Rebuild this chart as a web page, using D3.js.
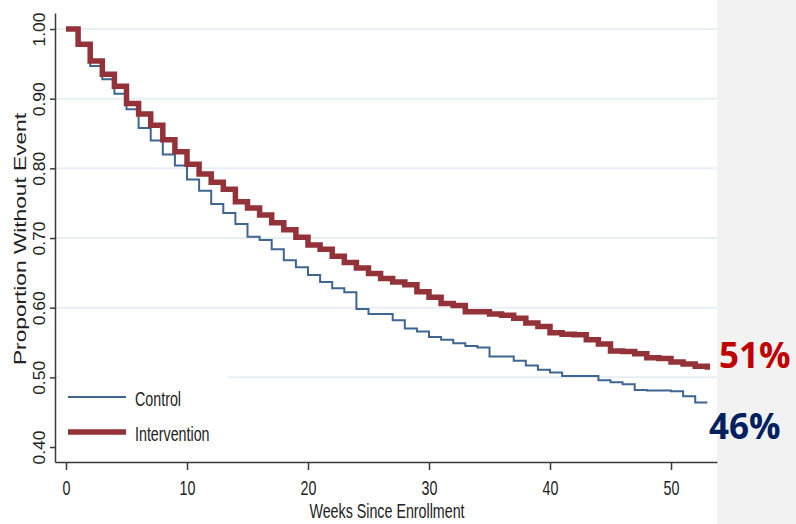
<!DOCTYPE html>
<html>
<head>
<meta charset="utf-8">
<script src="https://cdn.jsdelivr.net/npm/d3@7"></script>
<style>
  body { margin: 0; background: #fff; }
  svg { display: block; }
</style>
</head>
<body>
<div id="chart"></div>
<script>
// weekly Kaplan-Meier estimates
var weeks = [0,1,2,3,4,5,6,7,8,9,10,11,12,13,14,15,16,17,18,19,20,21,22,23,24,25,26,
    27,28,29,30,31,32,33,34,35,36,37,38,39,40,41,42,43,44,45,46,47,48,49,50,51,52,53];

var intervention = [1.000,0.978,0.954,0.935,0.918,0.893,0.878,0.862,0.841,0.824,
    0.806,0.792,0.780,0.770,0.752,0.743,0.733,0.722,0.712,0.701,
    0.690,0.684,0.674,0.665,0.657,0.649,0.642,0.637,0.633,0.623,
    0.615,0.606,0.603,0.594,0.594,0.591,0.589,0.585,0.578,0.573,
    0.564,0.562,0.561,0.554,0.548,0.538,0.537,0.534,0.528,0.527,
    0.522,0.519,0.516,0.511];

var control = [1.000,0.978,0.947,0.928,0.907,0.885,0.858,0.840,0.820,0.804,
    0.784,0.768,0.749,0.736,0.720,0.702,0.697,0.684,0.668,0.658,
    0.647,0.637,0.628,0.622,0.598,0.591,0.591,0.582,0.570,0.566,
    0.558,0.554,0.549,0.545,0.543,0.530,0.530,0.524,0.517,0.511,
    0.507,0.502,0.502,0.502,0.496,0.493,0.490,0.482,0.481,0.481,
    0.480,0.473,0.464,0.464];

var yTicks = [0.4, 0.5, 0.6, 0.7, 0.8, 0.9, 1.0];
var xTicks = [0, 10, 20, 30, 40, 50];
var seriesNames = ["Control", "Intervention"];
var finalLabels = ["51%", "46%"];

var width = 796, height = 524;
var narrow = "scale(0.68,1)";

var svg = d3.select("#chart")
    .append("svg")
    .attr("width", width)
    .attr("height", height);

svg.append("rect")
    .attr("width", width)
    .attr("height", height)
    .attr("fill", "#fff");

// grey slide strip on the right
svg.append("rect")
    .attr("x", 717)
    .attr("y", 0)
    .attr("width", width - 717)
    .attr("height", height)
    .attr("fill", "#f2f2f2");

var x = d3.scaleLinear().domain([-0.909, 53.8]).range([55, 717]);
var y = d3.scaleLinear().domain([0.3785, 1.023]).range([462, 13]);

// grid
svg.append("g")
    .selectAll("line")
    .data(yTicks.filter(function(d) { return d > 0.45; }))
    .enter()
    .append("line")
    .attr("x1", 55)
    .attr("x2", 717)
    .attr("y1", function(d) { return y(d); })
    .attr("y2", function(d) { return y(d); })
    .attr("stroke", "#e7eff3")
    .attr("stroke-width", 2);

// legend box hides the grid under it
svg.append("rect")
    .attr("x", 60)
    .attr("y", 376)
    .attr("width", 168)
    .attr("height", 80)
    .attr("fill", "#fff");

// axes
var yAxis = svg.append("g")
    .attr("transform", "translate(55,0)")
    .call(d3.axisLeft(y).tickValues(yTicks).tickSize(5).tickSizeOuter(0)
        .tickFormat(d3.format(".2f")));

yAxis.selectAll("text")
    .attr("x", 0)
    .attr("dy", 0)
    .attr("text-anchor", "middle")
    .attr("transform", "translate(-10,0) rotate(-90)")
    .attr("font-family", "'Liberation Sans', Arial, sans-serif")
    .attr("font-size", 16.5)
    .attr("textLength", 34)
    .attr("lengthAdjust", "spacingAndGlyphs")
    .attr("fill", "#222");

var xAxis = svg.append("g")
    .attr("transform", "translate(0,462)")
    .call(d3.axisBottom(x).tickValues(xTicks).tickSize(8).tickSizeOuter(0));

xAxis.selectAll("text")
    .attr("y", 0)
    .attr("dy", 0)
    .attr("transform", "translate(0,33) " + narrow)
    .attr("font-family", "'Liberation Sans', Arial, sans-serif")
    .attr("font-size", 21)
    .attr("fill", "#222");

svg.selectAll(".domain, .tick line")
    .attr("stroke", "#3a3a3a")
    .attr("stroke-width", 1.5);

// axis titles
svg.append("text")
    .attr("transform", "translate(26,239) rotate(-90)")
    .attr("text-anchor", "middle")
    .attr("font-family", "'Liberation Sans', Arial, sans-serif")
    .attr("font-size", 16)
    .attr("textLength", 252)
    .attr("lengthAdjust", "spacingAndGlyphs")
    .attr("fill", "#222")
    .text("Proportion Without Event");

svg.append("text")
    .attr("transform", "translate(387,518) " + narrow)
    .attr("text-anchor", "middle")
    .attr("font-family", "'Liberation Sans', Arial, sans-serif")
    .attr("font-size", 21)
    .attr("fill", "#222")
    .text("Weeks Since Enrollment");

// survival curves
var line = d3.line()
    .curve(d3.curveStepAfter)
    .x(function(d, i) { return x(weeks[i]); })
    .y(function(d) { return y(d); });

svg.append("path")
    .datum(control)
    .attr("d", line)
    .attr("fill", "none")
    .attr("stroke", "#3f6690")
    .attr("stroke-width", 2);

svg.append("path")
    .datum(intervention)
    .attr("d", line)
    .attr("fill", "none")
    .attr("stroke", "#933238")
    .attr("stroke-width", 5.5);

// legend
var legend = svg.append("g");
var legendRows = [
    { name: seriesNames[0], y: 397, color: "#3f6690", w: 2, base: 406 },
    { name: seriesNames[1], y: 432, color: "#933238", w: 5.5, base: 441 }
];

legendRows.forEach(function(r) {
    legend.append("line")
        .attr("x1", 68)
        .attr("x2", 126)
        .attr("y1", r.y)
        .attr("y2", r.y)
        .attr("stroke", r.color)
        .attr("stroke-width", r.w);
    legend.append("text")
        .attr("transform", "translate(135," + r.base + ") " + narrow)
        .attr("font-family", "'Liberation Sans', Arial, sans-serif")
        .attr("font-size", 21)
        .attr("fill", "#222")
        .text(r.name);
});

// end-of-follow-up labels
svg.append("text")
    .attr("x", 719)
    .attr("y", 368)
    .attr("font-family", "'Open Sans', sans-serif")
    .attr("font-weight", "bold")
    .attr("font-size", 35)
    .attr("fill", "#c00000")
    .text(finalLabels[0]);

svg.append("text")
    .attr("x", 709)
    .attr("y", 439)
    .attr("font-family", "'Open Sans', sans-serif")
    .attr("font-weight", "bold")
    .attr("font-size", 35)
    .attr("fill", "#002060")
    .text(finalLabels[1]);
</script>
</body>
</html>
